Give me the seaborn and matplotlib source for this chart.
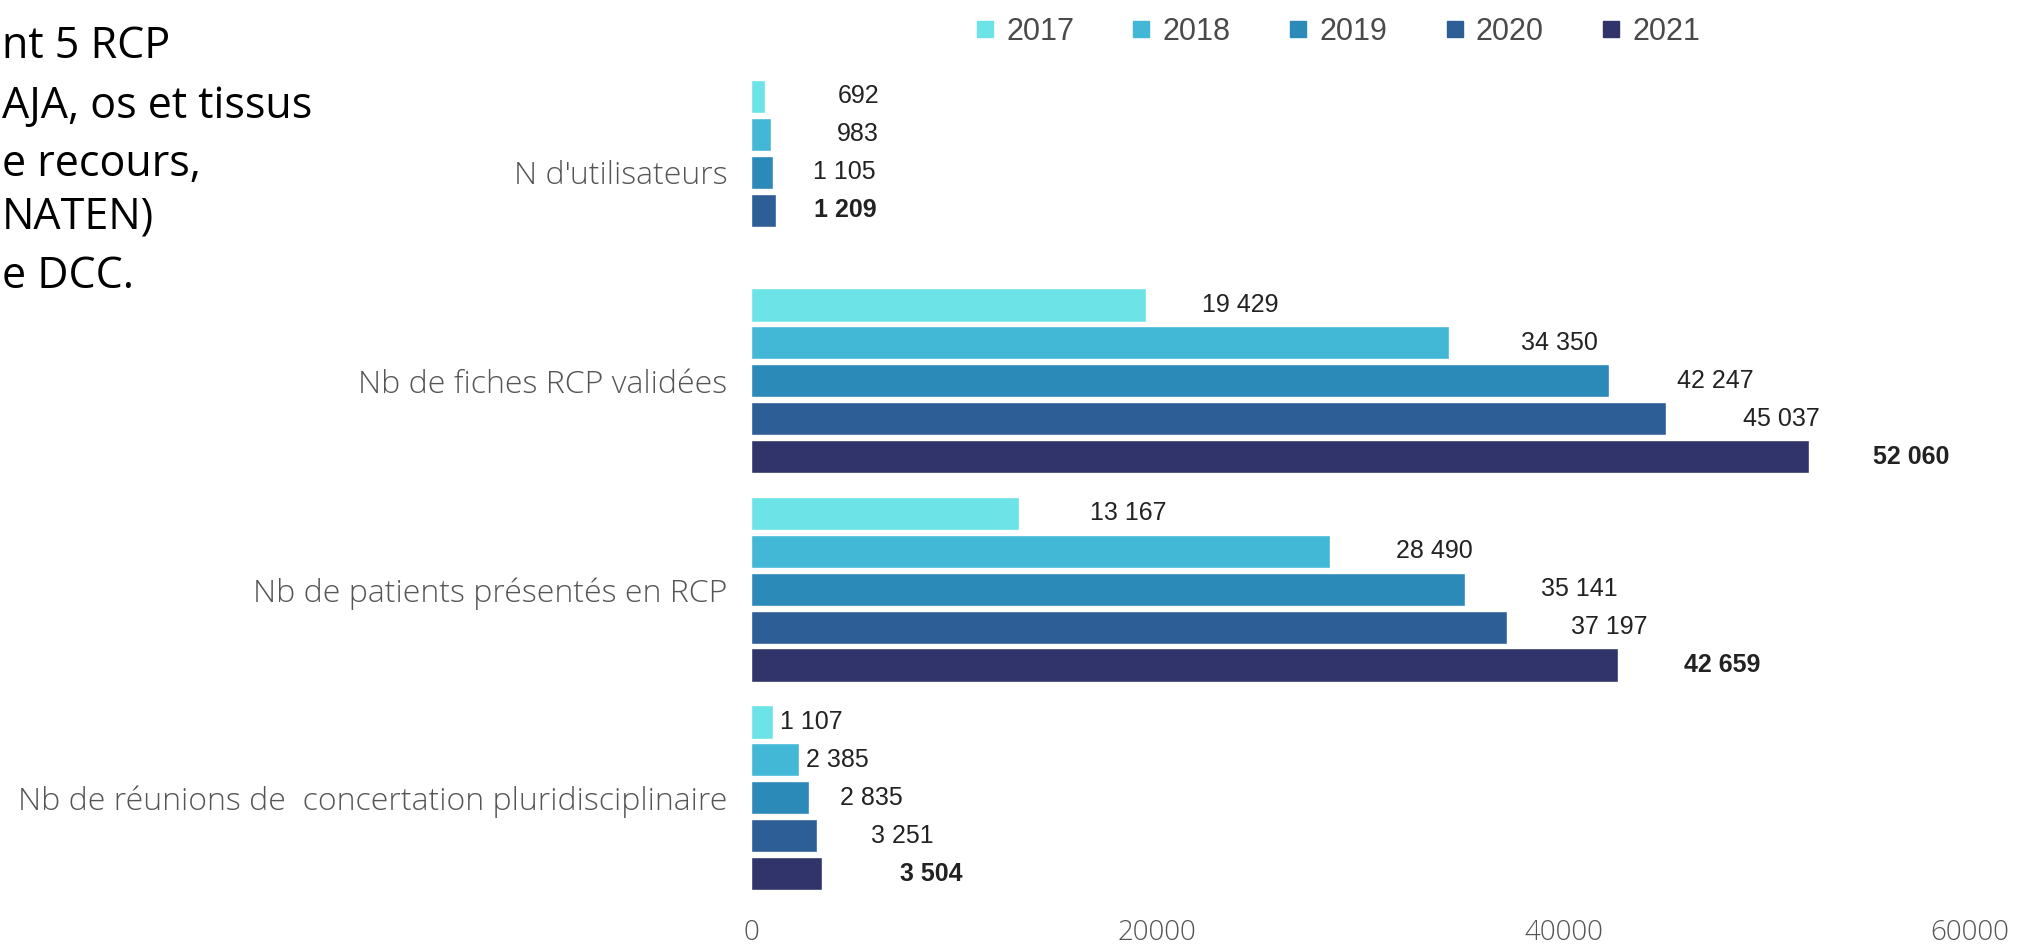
import numpy as np
import pandas as pd
import matplotlib
matplotlib.use("Agg")
import matplotlib.pyplot as plt
from matplotlib.lines import Line2D
import seaborn as sns

# ---------------- data ----------------
categories = ["N d'utilisateurs",
              "Nb de fiches RCP validées",
              "Nb de patients présentés en RCP",
              "Nb de réunions de  concertation pluridisciplinaire"]
years = ["2017", "2018", "2019", "2020", "2021"]
v2017 = [692, 19429, 13167, 1107]
v2018 = [983, 34350, 28490, 2385]
v2019 = [1105, 42247, 35141, 2835]
v2020 = [1209, 45037, 37197, 3251]
v2021 = [np.nan, 52060, 42659, 3504]
xticks = [0, 20000, 40000, 60000]
side_text = ["nt 5 RCP", "AJA, os et tissus", "e recours,", "NATEN)", "e DCC."]

# ---------------- style / layout constants ----------------
colors = ["#6ce4e7", "#42b7d6", "#2c8ab9", "#2d5e96", "#31346a"]
# horizontal gap (pixels) between bar end and its value label, per category / year
label_gap_px = [[73, 66, 40, 38, 0],
                [56, 72, 68, 77, 64],
                [71, 66, 76, 64, 66],
                [7, 7, 31, 54, 78]]

series = [v2017, v2018, v2019, v2020, v2021]
rows = []
for y, vals in zip(years, series):
    for c, v in zip(categories, vals):
        rows.append({"cat": c, "year": y, "value": v})
df = pd.DataFrame(rows)

sns.set_style("white")
plt.rcParams["font.family"] = ["Open Sans", "DejaVu Sans"]

W, H = 2026, 944
fig = plt.figure(figsize=(W / 100, H / 100), dpi=100)
ax = fig.add_axes([751 / W, (H - 902) / H, 1219 / W, 834 / H])

sns.barplot(data=df, y="cat", x="value", hue="year", order=categories,
            hue_order=years, palette=colors, orient="h", width=0.91, gap=0.12,
            saturation=1, legend=False, ax=ax)

ax.set_xlim(0, 60000)
ax.set_ylim(3.5, -0.5)
ax.set_xticks(xticks)
ax.set_xticklabels([str(t) for t in xticks])
ax.set_xlabel("")
ax.set_ylabel("")
for s in ax.spines.values():
    s.set_visible(False)
ax.tick_params(axis="x", length=0, pad=12, labelsize=20, labelcolor="#555555")
ax.tick_params(axis="y", length=0, pad=17, labelsize=23, labelcolor="#555555")
for lab in ax.get_yticklabels() + ax.get_xticklabels():
    lab.set_fontweight("light")

# value labels
vals_matrix = np.array(series, dtype=float).T  # cat x year
for hi, cont in enumerate(ax.containers):
    for bar in cont:
        w = bar.get_width()
        if not np.isfinite(w) or w == 0:
            continue
        yc = bar.get_y() + bar.get_height() / 2
        ci = int(round(yc))
        row = vals_matrix[ci]
        last = max(i for i, v in enumerate(row) if np.isfinite(v))
        txt = f"{int(round(w)):,}".replace(",", " ")
        ax.annotate(txt, xy=(w, yc),
                    xytext=(label_gap_px[ci][hi] * 0.72, 0),
                    textcoords="offset points", ha="left", va="center",
                    fontsize=18, family=["Liberation Sans", "DejaVu Sans"],
                    fontweight="bold" if hi == last else "normal",
                    color="#222222")

# legend
handles = [Line2D([0], [0], marker="s", linestyle="none", markersize=11,
                  markerfacecolor=c, markeredgecolor=c) for c in colors]
leg = fig.legend(handles, years, loc="upper center", ncol=5,
                 bbox_to_anchor=(1338 / W, 0.998), frameon=False,
                 prop={"family": ["Liberation Sans", "DejaVu Sans"], "size": 22},
                 handlelength=0.6, handletextpad=0.4, columnspacing=1.9,
                 borderaxespad=0.1)
for t in leg.get_texts():
    t.set_color("#4a4a4a")

# cropped slide text at left
baselines = [58, 118, 176, 229, 288]
for s, b in zip(side_text, baselines):
    fig.text(2 / W, 1 - b / H, s, ha="left", va="baseline", fontsize=31,
             color="#000000", family=["Open Sans", "DejaVu Sans"])

fig.savefig("out.png", dpi=100, facecolor="white")
